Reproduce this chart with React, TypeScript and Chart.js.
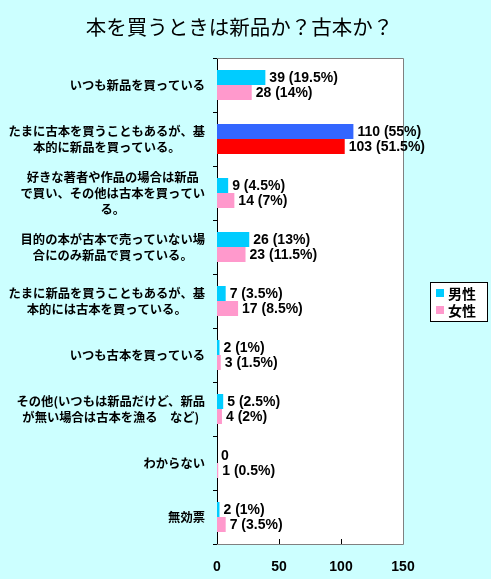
import { useEffect, useRef } from "react";
import { Chart, registerables } from "chart.js";

Chart.register(...registerables);

const chartTitle = "本を買うときは新品か？古本か？";
const categories: (string | string[])[] = [
    "いつも新品を買っている",
    ["たまに古本を買うこともあるが、基", "本的に新品を買っている。"],
    ["好きな著者や作品の場合は新品", "で買い、その他は古本を買ってい", "る。"],
    ["目的の本が古本で売っていない場", "合にのみ新品で買っている。"],
    ["たまに新品を買うこともあるが、基", "本的には古本を買っている。"],
    "いつも古本を買っている",
    ["その他(いつもは新品だけど、新品", "が無い場合は古本を漁る　など)"],
    "わからない",
    "無効票",
];
const seriesNames = ["男性", "女性"];
const maleCounts = [39, 110, 9, 26, 7, 2, 5, 0, 2];
const femaleCounts = [28, 103, 14, 23, 17, 3, 4, 1, 7];
const malePercents = ["19.5", "55", "4.5", "13", "3.5", "1", "2.5", "", "1"];
const femalePercents = ["14", "51.5", "7", "11.5", "8.5", "1.5", "2", "0.5", "3.5"];
const xTicks = [0, 50, 100, 150];

const BG = "#CCFFFF";
const MALE = "#00CCFF";
const FEMALE = "#FF99CC";
const MALE_HI = "#3366FF";
const FEMALE_HI = "#FF0000";
const HIGHLIGHT = 1;

const decor = {
    id: "decor",
    beforeDraw(chart: any) {
        const { ctx, chartArea: a, width, height } = chart;
        ctx.save();
        ctx.fillStyle = BG;
        ctx.fillRect(0, 0, width, height);
        ctx.fillStyle = "#FFFFFF";
        ctx.fillRect(a.left, a.top, a.right - a.left, a.bottom - a.top);
        // title, centred over the whole picture
        ctx.fillStyle = "#000";
        ctx.font = "20.5px 'Noto Sans CJK JP', sans-serif";
        ctx.textAlign = "center";
        ctx.textBaseline = "middle";
        ctx.fillText(chartTitle, width / 2 - 6, 27);
        ctx.restore();
    },
    beforeDatasetsDraw(chart: any) {
        const { ctx, chartArea: a } = chart;
        const xs = chart.scales.x;
        ctx.save();
        ctx.strokeStyle = "#808080";
        ctx.lineWidth = 1;
        ctx.beginPath();
        ctx.moveTo(a.left, a.top + 0.5);
        ctx.lineTo(a.right + 0.5, a.top + 0.5);
        ctx.lineTo(a.right + 0.5, a.bottom + 0.5);
        ctx.lineTo(a.left, a.bottom + 0.5);
        ctx.stroke();
        // small inward ticks on the value axis
        ctx.strokeStyle = "#000";
        xTicks.slice(1, -1).forEach((v) => {
            const x = Math.round(xs.getPixelForValue(v)) + 0.5;
            ctx.beginPath();
            ctx.moveTo(x, a.bottom - 5);
            ctx.lineTo(x, a.bottom);
            ctx.stroke();
        });
        ctx.restore();
    },
    afterDatasetsDraw(chart: any) {
        const { ctx, chartArea: a } = chart;
        const ys = chart.scales.y;
        ctx.save();

        // value labels
        ctx.fillStyle = "#000";
        ctx.font = "bold 14px 'Liberation Sans', Arial, sans-serif";
        ctx.textAlign = "left";
        ctx.textBaseline = "middle";
        const pcts = [malePercents, femalePercents];
        chart.data.datasets.forEach((ds: any, di: number) => {
            const meta = chart.getDatasetMeta(di);
            meta.data.forEach((bar: any, i: number) => {
                const v = ds.data[i] as number;
                const text = v === 0 ? "0" : `${v} (${pcts[di][i]}%)`;
                ctx.fillText(text, bar.x + 4, bar.y + 1);
            });
        });

        // category labels: block right-aligned, lines centred in block
        ctx.font = "bold 12.3px 'Noto Sans CJK JP', sans-serif";
        ctx.textAlign = "center";
        categories.forEach((c, i) => {
            const lines = Array.isArray(c) ? c : [c];
            const widest = Math.max(...lines.map((l) => ctx.measureText(l).width));
            const cx = a.left - 12 - widest / 2;
            const cy = ys.getPixelForValue(i);
            lines.forEach((l, j) => {
                ctx.fillText(l, cx, cy + (j - (lines.length - 1) / 2) * 16);
            });
        });

        // legend
        const lx = 430;
        const cy = (a.top + a.bottom) / 2;
        const ly = Math.round(cy - 19);
        ctx.fillStyle = "#FFFFFF";
        ctx.fillRect(lx, ly, 57, 39);
        ctx.strokeStyle = "#000";
        ctx.lineWidth = 1;
        ctx.strokeRect(lx + 0.5, ly + 0.5, 57, 39);
        ctx.font = "bold 14px 'Noto Sans CJK JP', sans-serif";
        ctx.textAlign = "left";
        const legendColors = [MALE, FEMALE];
        seriesNames.forEach((name, k) => {
            const ry = ly + 11 + k * 17;
            ctx.fillStyle = legendColors[k];
            ctx.fillRect(lx + 6, ry - 4, 8, 8);
            ctx.fillStyle = "#000";
            ctx.fillText(name, lx + 18, ry + 1);
        });
        ctx.restore();
    },
};

export default function App() {
    const canvasRef = useRef<HTMLCanvasElement | null>(null);
    const chartRef = useRef<Chart | null>(null);

    useEffect(() => {
        document.body.style.margin = "0";
        if (!canvasRef.current) return;
        if (chartRef.current) { chartRef.current.destroy(); }

        chartRef.current = new Chart(canvasRef.current, {
            type: "bar",
            data: {
                labels: categories as any,
                datasets: [
                    {
                        label: seriesNames[0],
                        data: maleCounts,
                        backgroundColor: maleCounts.map((_, i) => (i === HIGHLIGHT ? MALE_HI : MALE)),
                        categoryPercentage: 0.556,
                        barPercentage: 1,
                    },
                    {
                        label: seriesNames[1],
                        data: femaleCounts,
                        backgroundColor: femaleCounts.map((_, i) => (i === HIGHLIGHT ? FEMALE_HI : FEMALE)),
                        categoryPercentage: 0.556,
                        barPercentage: 1,
                    },
                ],
            },
            options: {
                indexAxis: "y",
                animation: false,
                responsive: true,
                maintainAspectRatio: false,
                layout: { padding: { left: 0, right: 88, top: 58, bottom: 0 } },
                plugins: {
                    legend: { display: false },
                    tooltip: { enabled: false },
                    title: { display: false },
                },
                scales: {
                    x: {
                        min: xTicks[0],
                        max: xTicks[xTicks.length - 1],
                        afterBuildTicks: (scale: any) => {
                            scale.ticks = xTicks.map((v) => ({ value: v }));
                        },
                        afterFit: (scale: any) => { scale.height = 35; },
                        ticks: {
                            color: "#000",
                            padding: 15,
                            font: { family: "'Liberation Sans', Arial, sans-serif", size: 14, weight: "bold" },
                        },
                        grid: { display: false, drawTicks: false },
                        border: { display: false },
                    },
                    y: {
                        afterFit: (scale: any) => { scale.width = 217; },
                        ticks: { display: false },
                        grid: {
                            display: true,
                            drawOnChartArea: false,
                            drawTicks: true,
                            tickLength: 4,
                            color: "#000",
                            offset: true,
                        },
                        border: { display: true, color: "#000" },
                    },
                },
            },
            plugins: [decor],
        });

        return () => {
            if (chartRef.current) {
                chartRef.current.destroy();
                chartRef.current = null;
            }
        };
    }, []);

    return (
        <div style={{ position: "relative", width: 491, height: 579 }}>
            <canvas ref={canvasRef} />
        </div>
    );
}
